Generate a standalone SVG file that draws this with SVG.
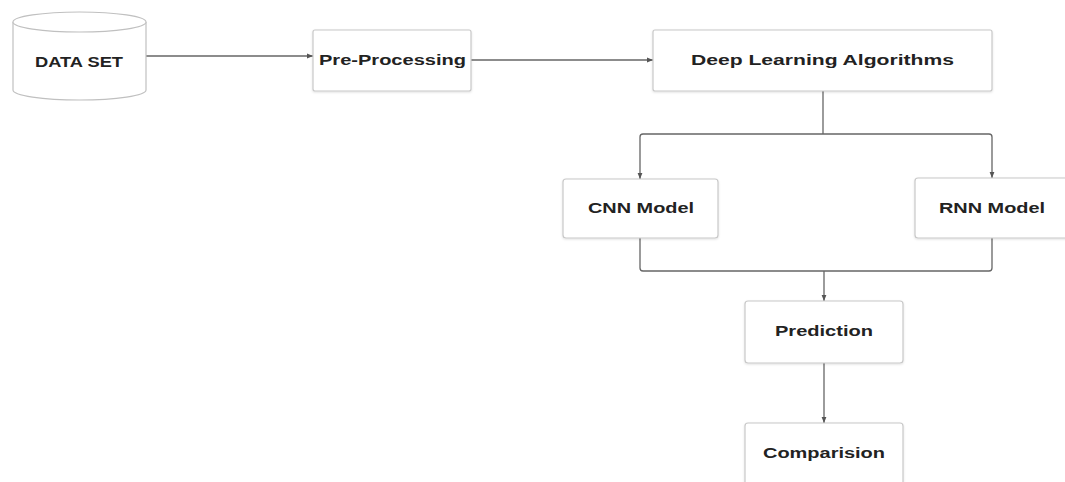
<svg xmlns="http://www.w3.org/2000/svg" width="1065" height="482" viewBox="0 0 1065 482">
<defs>
<marker id="arr" viewBox="0 0 10 10" refX="10" refY="5" markerWidth="6" markerHeight="6" orient="auto" markerUnits="userSpaceOnUse">
<path d="M0,1 L10,5 L0,9 z" fill="#555"/>
</marker>
<filter id="sh" x="-10%" y="-10%" width="120%" height="130%">
<feDropShadow dx="0" dy="1" stdDeviation="1.2" flood-color="#000" flood-opacity="0.12"/>
</filter>
</defs>
<style>
.box{fill:#fff;stroke:#c8c8c8;stroke-width:1.2;filter:url(#sh)}
.lbl{font-family:"Liberation Sans",Arial,sans-serif;font-weight:bold;font-size:14px;fill:#222;text-anchor:middle}
.con{fill:none;stroke:#666;stroke-width:1.3}
</style>
<rect width="1065" height="482" fill="#fff"/>
<g id="connectors">
<path class="con" d="M146,56 L313,56" marker-end="url(#arr)"/>
<path class="con" d="M471,60 L653,60" marker-end="url(#arr)"/>
<path class="con" d="M823,91 L823,134"/>
<path class="con" d="M823,134 L643,134 Q640,134 640,137 L640,179" marker-end="url(#arr)"/>
<path class="con" d="M823,134 L989,134 Q992,134 992,137 L992,178" marker-end="url(#arr)"/>
<path class="con" d="M640,238 L640,268 Q640,271 643,271 L989,271 Q992,271 992,268 L992,238"/>
<path class="con" d="M824,271 L824,301" marker-end="url(#arr)"/>
<path class="con" d="M824,363 L824,423" marker-end="url(#arr)"/>
</g>
<g id="dataset">
<path d="M13,22 L13,90 A66.5,10 0 0 0 146,90 L146,22" fill="#fff" stroke="#c0c0c0" stroke-width="1.2"/>
<ellipse cx="79.5" cy="22" rx="66.5" ry="10" fill="#fff" stroke="#c0c0c0" stroke-width="1.2"/>
<text class="lbl" x="79" y="67" textLength="88" lengthAdjust="spacingAndGlyphs">DATA SET</text>
</g>
<g id="preprocessing">
<rect class="box" x="313" y="30" width="158" height="61" rx="2"/>
<text class="lbl" x="392.5" y="65" textLength="147" lengthAdjust="spacingAndGlyphs">Pre-Processing</text>
</g>
<g id="deeplearning">
<rect class="box" x="653" y="30" width="339" height="61" rx="2"/>
<text class="lbl" x="822.5" y="65" textLength="263" lengthAdjust="spacingAndGlyphs">Deep Learning Algorithms</text>
</g>
<g id="cnn">
<rect class="box" x="563" y="179" width="155" height="59" rx="3"/>
<text class="lbl" x="641" y="213" textLength="106" lengthAdjust="spacingAndGlyphs">CNN Model</text>
</g>
<g id="rnn">
<rect class="box" x="915" y="178" width="160" height="60" rx="3"/>
<text class="lbl" x="992" y="213" textLength="106" lengthAdjust="spacingAndGlyphs">RNN Model</text>
</g>
<g id="prediction">
<rect class="box" x="745" y="301" width="158" height="62" rx="3"/>
<text class="lbl" x="824" y="336" textLength="98" lengthAdjust="spacingAndGlyphs">Prediction</text>
</g>
<g id="comparision">
<rect class="box" x="745" y="423" width="158" height="70" rx="3"/>
<text class="lbl" x="824" y="458" textLength="122" lengthAdjust="spacingAndGlyphs">Comparision</text>
</g>
</svg>
